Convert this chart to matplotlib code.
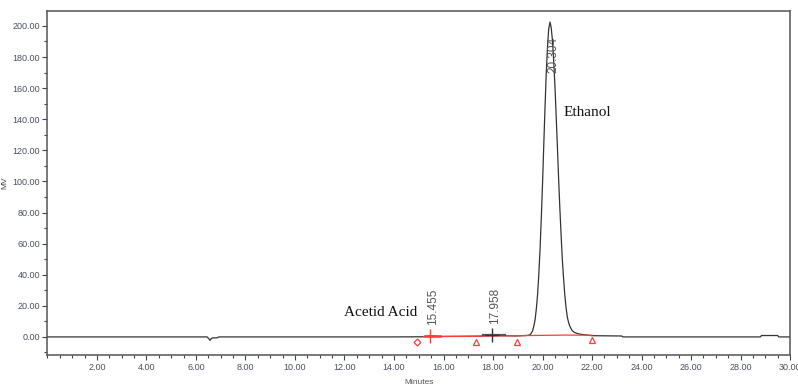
import numpy as np
import matplotlib.pyplot as plt
from matplotlib.ticker import MultipleLocator, FormatStrFormatter

# chromatogram trace (minutes, mV)
trace_t = [0.0, 6.45, 6.52, 6.57, 6.62, 6.68, 6.85, 6.92, 14.0, 15.2, 15.4, 15.455, 15.55, 15.8,
           17.5, 17.7, 17.958, 18.2, 18.5, 18.9, 19.2, 19.4, 19.5, 19.55, 19.6, 19.65, 19.7,
           19.75, 19.8, 19.85, 19.9, 19.95, 20.0, 20.05, 20.1, 20.15, 20.2, 20.25, 20.304,
           20.35, 20.4, 20.45, 20.5, 20.55, 20.6, 20.65, 20.7, 20.75, 20.8, 20.85, 20.9,
           20.95, 21.0, 21.05, 21.1, 21.2, 21.3, 21.5, 21.8, 22.0, 23.2, 23.25,
           28.8, 28.85, 29.5, 29.55, 30.0]
trace_mv = [0.0, 0.0, -1.2, -2.2, -1.0, -0.6, -0.6, 0.0, 0.0, 0.1, 0.6, 0.8, 0.6, 0.3,
            0.5, 1.0, 1.2, 1.0, 0.8, 0.6, 0.8, 1.0, 1.4, 2.5, 4.0, 7.0, 11.0,
            18.0, 27.0, 40.0, 56.0, 76.0, 98.0, 123.0, 147.0, 169.0, 186.0, 198.0, 202.5,
            199.0, 191.0, 178.0, 162.0, 143.0, 123.0, 102.0, 83.0, 66.0, 50.0, 38.0, 27.0,
            19.0, 13.0, 9.5, 7.0, 4.0, 2.8, 1.8, 1.2, 0.8, 0.6, 0.0,
            0.0, 0.9, 0.9, 0.0, 0.0]

# integration baseline (red) and event markers
base_t = [15.2, 17.3, 18.95, 21.0, 22.0]
base_mv = [0.2, 0.4, 0.8, 1.2, 1.1]
diamond_t, diamond_mv = [14.93], [-3.2]
tri_t = [17.3, 18.97, 22.0]
tri_mv = [-3.2, -3.0, -2.0]

rt_values = [15.455, 17.958, 20.304]
rt_marks = [0.6, 1.2]
rt_label_y = [7.5, 8.0, 170.0]

names = ['Acetid Acid', 'Ethanol']
name_x = [12.0, 20.83]
name_y = [15.7, 144.5]

sans = ['Liberation Sans', 'DejaVu Sans']

fig = plt.figure(figsize=(7.98, 3.85), dpi=100)
ax = fig.add_axes([0.0595, 0.078, 0.9305, 0.8935])

ax.plot(trace_t, trace_mv, color='#333333', lw=0.9)
ax.plot(base_t, base_mv, color='#ff3b3b', lw=0.9)
ax.plot([15.25, 15.85], [0.3, 0.3], color='#ff3b3b', lw=1.8)
ax.plot([17.6, 18.5], [1.0, 1.0], color='#555555', lw=1.6)
ax.plot(diamond_t, diamond_mv, 'D', ms=3.5, mfc='none', mec='#ff3b3b', mew=0.9)
ax.plot(tri_t, tri_mv, '^', ms=5, mfc='none', mec='#ff3b3b', mew=0.9)

ax.plot(rt_values[0], rt_marks[0], '+', color='#ff3b3b', ms=10, mew=1.0)
ax.plot(rt_values[1], rt_marks[1], '+', color='#333333', ms=10, mew=1.0)

for t, y in zip(rt_values, rt_label_y):
    ax.text(t + 0.12, y, '%.3f' % t, rotation=90, ha='center', va='bottom',
            fontsize=8.5, color='#555555', family=sans)

for n, x, y in zip(names, name_x, name_y):
    ax.text(x, y, n, fontsize=11, family='Liberation Serif', va='center', ha='left', color='#111111')

ax.set_xlim(0, 30)
ax.set_ylim(-11.6, 209.6)
ax.xaxis.set_minor_locator(MultipleLocator(0.5))
ax.yaxis.set_major_locator(MultipleLocator(20))
ax.yaxis.set_minor_locator(MultipleLocator(10))
ax.set_xticks(np.arange(2, 31, 2))
ax.xaxis.set_major_formatter(FormatStrFormatter('%.2f'))
ax.yaxis.set_major_formatter(FormatStrFormatter('%.2f'))

for lab in ax.get_xticklabels() + ax.get_yticklabels():
    lab.set_family(sans)
ax.tick_params(which='major', direction='out', length=3.5, width=0.8, colors='#444444',
               labelsize=6.5, labelcolor='#4a5060', pad=2)
ax.tick_params(which='minor', direction='out', length=2, width=0.8, colors='#444444')

for s in ax.spines.values():
    s.set_color('#555555')
    s.set_linewidth(1.1)

ax.set_ylabel('MV', fontsize=6, color='#444444', family=sans)
ax.yaxis.set_label_coords(-0.053, 0.5)
ax.set_xlabel('Minutes', fontsize=6, color='#555555', family=sans)
ax.xaxis.set_label_coords(0.5, -0.07)

fig.savefig('out.png', dpi=100)
